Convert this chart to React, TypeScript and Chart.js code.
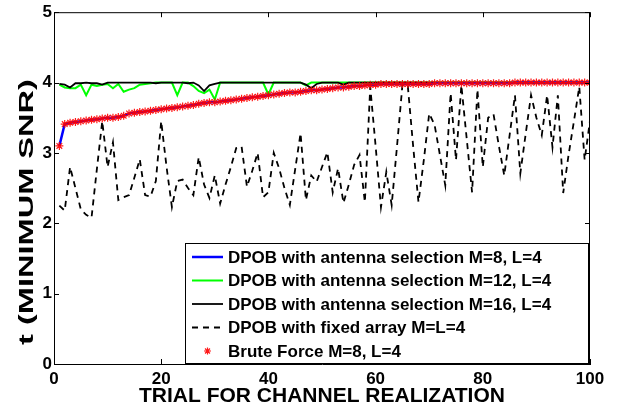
import { useEffect, useRef } from 'react';
import { Chart, registerables } from 'chart.js';

Chart.register(...registerables);

const FONT = '"Liberation Sans", Arial, Helvetica, sans-serif';

const trials = Array.from({ length: 100 }, (_, i) => i + 1);

const xTicks = [0, 20, 40, 60, 80, 100];
const yTicks = [0, 1, 2, 3, 4, 5];

const dpobM8 = [
  3.10, 3.41, 3.43, 3.44, 3.45, 3.46, 3.47, 3.48, 3.49, 3.50,
  3.50, 3.51, 3.53, 3.56, 3.57, 3.58, 3.59, 3.60, 3.61, 3.62,
  3.63, 3.64, 3.65, 3.66, 3.67, 3.68, 3.70, 3.71, 3.72, 3.72,
  3.73, 3.74, 3.75, 3.76, 3.77, 3.78, 3.79, 3.80, 3.81, 3.82,
  3.83, 3.84, 3.85, 3.86, 3.86, 3.87, 3.88, 3.89, 3.89, 3.90,
  3.91, 3.92, 3.93, 3.93, 3.94, 3.95, 3.95, 3.96, 3.97, 3.97,
  3.98, 3.98, 3.98, 3.98, 3.98, 3.98, 3.98, 3.98, 3.98, 3.98,
  3.99, 3.99, 3.99, 3.99, 3.99, 3.99, 3.99, 3.99, 3.99, 3.99,
  3.99, 3.99, 3.99, 3.99, 3.99, 4.00, 4.00, 4.00, 4.00, 4.00,
  4.00, 4.00, 4.00, 4.00, 4.00, 4.00, 4.00, 4.00, 4.00, 4.00,
];

const dpobM12 = [
  3.97, 3.93, 3.92, 3.92, 3.97, 3.82, 3.97, 3.95, 3.97, 3.98,
  3.92, 3.98, 3.87, 3.90, 3.92, 3.97, 3.98, 3.99, 4.00, 4.00,
  4.00, 4.00, 3.82, 4.00, 4.00, 3.95, 3.88, 3.85, 3.90, 3.76,
  4.00, 4.00, 4.00, 4.00, 4.00, 4.00, 4.00, 4.00, 4.00, 3.83,
  4.00, 4.00, 4.00, 4.00, 4.00, 4.00, 3.96, 4.00, 4.00, 4.00,
  4.00, 4.00, 4.00, 4.00, 4.00, 4.00, 4.00, 4.00, 4.00, 4.00,
  4.00, 4.00, 4.00, 4.00, 4.00, 4.00, 4.00, 4.00, 4.00, 4.00,
  4.00, 4.00, 4.00, 4.00, 4.00, 4.00, 4.00, 4.00, 4.00, 4.00,
  4.00, 4.00, 4.00, 4.00, 4.00, 4.00, 4.00, 4.00, 4.00, 4.00,
  4.00, 4.00, 4.00, 4.00, 4.00, 4.00, 4.00, 4.00, 4.00, 4.00,
];

const dpobM16 = [
  3.98, 3.97, 3.93, 3.99, 3.99, 4.00, 3.99, 3.99, 3.97, 4.00,
  4.00, 4.00, 4.00, 4.00, 4.00, 4.00, 4.00, 4.00, 3.99, 4.00,
  4.00, 4.00, 4.00, 4.00, 3.99, 4.00, 3.96, 3.88, 3.96, 3.98,
  4.00, 4.00, 4.00, 4.00, 4.00, 4.00, 4.00, 4.00, 4.00, 4.00,
  4.00, 4.00, 4.00, 4.00, 4.00, 4.00, 3.97, 3.92, 3.98, 4.00,
  4.00, 4.00, 4.00, 3.97, 4.00, 4.00, 4.00, 4.00, 4.00, 4.00,
  4.00, 4.00, 4.00, 4.00, 4.00, 4.00, 4.00, 4.00, 4.00, 4.00,
  4.00, 4.00, 4.00, 4.00, 4.00, 4.00, 4.00, 4.00, 4.00, 4.00,
  4.00, 4.00, 4.00, 4.00, 4.00, 4.00, 4.00, 4.00, 4.00, 4.00,
  4.00, 4.00, 4.00, 4.00, 4.00, 4.00, 4.00, 4.00, 4.00, 4.00,
];

const fixedArray = [
  2.25, 2.18, 2.80, 2.50, 2.20, 2.12, 2.08, 2.77, 3.45, 2.80,
  3.15, 2.33, 2.37, 2.40, 2.65, 2.91, 2.40, 2.38, 2.60, 3.45,
  2.80, 2.23, 2.60, 2.62, 2.50, 2.40, 2.94, 2.55, 2.36, 2.68,
  2.28, 2.55, 2.80, 3.07, 3.09, 2.52, 2.75, 3.00, 2.37, 2.44,
  3.00, 2.78, 2.50, 2.26, 2.77, 3.28, 2.33, 2.68, 2.59, 2.80,
  3.01, 2.44, 2.78, 2.29, 2.55, 2.83, 2.97, 2.30, 3.94, 3.10,
  2.23, 2.73, 2.26, 3.10, 3.96, 3.96, 3.10, 2.30, 2.90, 3.56,
  3.40, 2.97, 2.54, 3.85, 2.90, 3.96, 3.20, 2.44, 3.90, 2.80,
  3.50, 3.55, 3.10, 2.68, 3.25, 3.82, 2.71, 3.27, 3.82, 3.50,
  3.25, 3.82, 3.08, 3.82, 2.43, 2.97, 3.45, 3.94, 2.90, 3.46,
];

const bruteForce = [...dpobM8];

const legendLabels = [
  'DPOB with antenna selection M=8, L=4',
  'DPOB with antenna selection M=12, L=4',
  'DPOB with antenna selection M=16, L=4',
  'DPOB with fixed array M=L=4',
  'Brute Force M=8, L=4',
];

const xTitle = 'TRIAL FOR CHANNEL REALIZATION';
const yTitle = 't (MINIMUM SNR)';

const toPts = (arr: number[]) => arr.map((v, i) => ({ x: trials[i], y: v }));

const framePlugin = {
  id: 'frameTicks',
  afterDatasetsDraw(chart: any) {
    const { ctx, chartArea: a, scales } = chart;
    const tl = 5;
    ctx.save();
    ctx.strokeStyle = '#000';
    ctx.lineWidth = 1;
    ctx.beginPath();
    ctx.moveTo(a.left, a.top + 0.5);
    ctx.lineTo(a.right, a.top + 0.5);
    ctx.moveTo(a.right - 0.5, a.top);
    ctx.lineTo(a.right - 0.5, a.bottom);
    for (const t of xTicks) {
      const px = Math.round(scales.x.getPixelForValue(t)) + 0.5;
      ctx.moveTo(px, a.bottom);
      ctx.lineTo(px, a.bottom - tl);
      ctx.moveTo(px, a.top);
      ctx.lineTo(px, a.top + tl);
    }
    for (const t of yTicks) {
      const py = Math.round(scales.y.getPixelForValue(t)) + 0.5;
      ctx.moveTo(a.left, py);
      ctx.lineTo(a.left + tl, py);
      ctx.moveTo(a.right, py);
      ctx.lineTo(a.right - tl, py);
    }
    ctx.stroke();
    ctx.restore();
  },
  afterDraw(chart: any) {
    const { ctx, chartArea: a } = chart;
    // y-axis title (stretched like the reference)
    ctx.save();
    ctx.fillStyle = '#000';
    ctx.font = `bold 21px ${FONT}`;
    ctx.textAlign = 'center';
    ctx.textBaseline = 'middle';
    ctx.translate(27, 212);
    ctx.rotate(-Math.PI / 2);
    ctx.scale(1.55, 1);
    ctx.fillText(yTitle, 0, 0);
    ctx.restore();

    // legend box
    const bw = 403;
    const bh = 120;
    const bx = a.right - 2 - bw;
    const by = a.bottom - 1 - bh;
    ctx.save();
    ctx.fillStyle = '#fff';
    ctx.fillRect(bx, by, bw, bh);
    ctx.strokeStyle = '#000';
    ctx.lineWidth = 1;
    ctx.strokeRect(bx + 0.5, by + 0.5, bw, bh);
    const rowY0 = by + 14;
    const rowGap = 23.5;
    ctx.font = `bold 17px ${FONT}`;
    ctx.textBaseline = 'middle';
    ctx.textAlign = 'left';
    chart.data.datasets.forEach((ds: any, i: number) => {
      const y = rowY0 + i * rowGap;
      const sx0 = bx + 7;
      const sx1 = bx + 38;
      if (ds.showLine === false) {
        ctx.strokeStyle = ds.pointBorderColor;
        ctx.lineWidth = 1.2;
        const cx = (sx0 + sx1) / 2;
        const r = 3.5;
        ctx.beginPath();
        for (let k = 0; k < 4; k++) {
          const ang = (k * Math.PI) / 4;
          ctx.moveTo(cx - r * Math.cos(ang), y - r * Math.sin(ang));
          ctx.lineTo(cx + r * Math.cos(ang), y + r * Math.sin(ang));
        }
        ctx.stroke();
      } else {
        ctx.strokeStyle = ds.borderColor;
        ctx.lineWidth = ds.borderWidth;
        ctx.setLineDash(ds.borderDash || []);
        ctx.beginPath();
        ctx.moveTo(sx0, y);
        ctx.lineTo(sx1, y);
        ctx.stroke();
        ctx.setLineDash([]);
      }
      ctx.fillStyle = '#000';
      ctx.fillText(legendLabels[i], bx + 43, y + 1);
    });
    ctx.restore();
  },
};

export default function App() {
  const ref = useRef<HTMLCanvasElement | null>(null);

  useEffect(() => {
    if (!ref.current) return;
    const chart = new Chart(ref.current, {
      type: 'line',
      data: {
        datasets: [
          {
            label: legendLabels[0],
            data: toPts(dpobM8),
            borderColor: 'rgb(0,0,255)',
            borderWidth: 2.5,
            pointRadius: 0,
            order: 1,
          },
          {
            label: legendLabels[1],
            data: toPts(dpobM12),
            borderColor: 'rgb(0,255,0)',
            borderWidth: 2,
            pointRadius: 0,
            order: 3,
          },
          {
            label: legendLabels[2],
            data: toPts(dpobM16),
            borderColor: '#000',
            borderWidth: 1.8,
            pointRadius: 0,
            order: 2,
          },
          {
            label: legendLabels[3],
            data: toPts(fixedArray),
            borderColor: '#000',
            borderWidth: 1.8,
            borderDash: [6, 5],
            pointRadius: 0,
            order: 4,
          },
          {
            label: legendLabels[4],
            data: toPts(bruteForce),
            showLine: false,
            pointStyle: 'star',
            pointRadius: 4,
            pointBorderColor: 'rgba(255,0,0,0.9)',
            pointBackgroundColor: 'rgba(255,0,0,0.9)',
            pointBorderWidth: 1.2,
            borderColor: 'rgba(255,0,0,0.9)',
            order: 0,
          },
        ],
      },
      options: {
        responsive: false,
        animation: false,
        events: [],
        layout: { padding: { top: 12, right: 36, left: 0, bottom: 0 } },
        plugins: {
          legend: { display: false },
          tooltip: { enabled: false },
          title: { display: false },
        },
        scales: {
          x: {
            type: 'linear',
            min: 0,
            max: 100,
            afterFit: (s: any) => {
              s.height = 45;
            },
            afterBuildTicks: (s: any) => {
              s.ticks = xTicks.map((v) => ({ value: v }));
            },
            ticks: {
              color: '#000',
              font: { family: FONT, size: 17, weight: 'bold' },
              padding: 5,
              maxRotation: 0,
            },
            grid: { drawOnChartArea: false, drawTicks: false },
            border: { display: true, color: '#000', width: 1 },
            title: {
              display: true,
              text: xTitle,
              color: '#000',
              font: { family: FONT, size: 21, weight: 'bold' },
              padding: { top: 0, bottom: 0 },
            },
          },
          y: {
            type: 'linear',
            min: 0,
            max: 5,
            afterFit: (s: any) => {
              s.width = 54;
            },
            afterBuildTicks: (s: any) => {
              s.ticks = yTicks.map((v) => ({ value: v }));
            },
            ticks: {
              color: '#000',
              font: { family: FONT, size: 17, weight: 'bold' },
              padding: 2,
            },
            grid: { drawOnChartArea: false, drawTicks: false },
            border: { display: true, color: '#000', width: 1 },
          },
        },
      },
      plugins: [framePlugin],
    });
    return () => chart.destroy();
  }, []);

  return (
    <div style={{ position: 'absolute', left: 0, top: 0, width: 626, height: 409, background: '#fff' }}>
      <canvas ref={ref} width={626} height={409} style={{ width: 626, height: 409, display: 'block' }} />
    </div>
  );
}
